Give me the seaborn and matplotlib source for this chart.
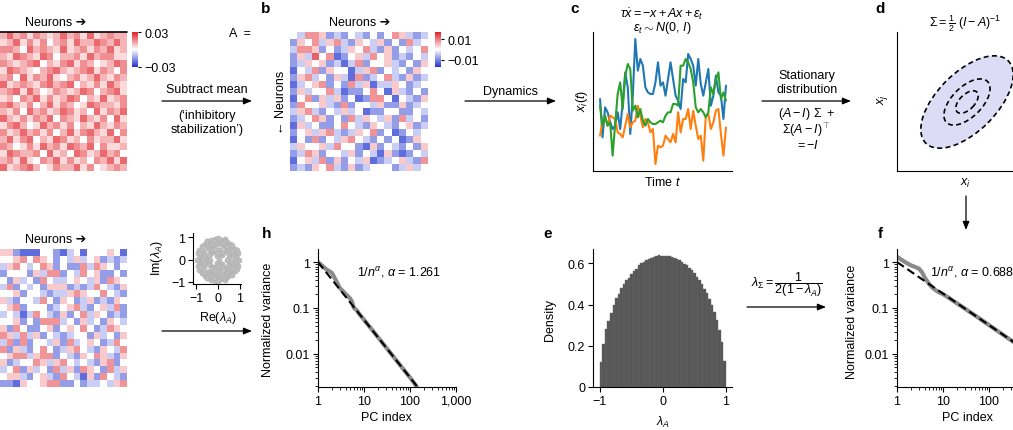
## Connectivity -> dynamics -> covariance spectrum schematic
import numpy as np
import pandas as pd
import matplotlib
matplotlib.use("Agg")
import matplotlib.pyplot as plt
import seaborn as sns
from matplotlib.colors import LinearSegmentedColormap
from matplotlib.patches import Ellipse
from matplotlib.ticker import FixedLocator, FixedFormatter, NullFormatter, LogLocator

## connectivity matrices, one digit per cell
# panel a: 0 = white .. 4 = strongest red (value = digit * 0.005)
a_rows = [
    "2423132124231412322", "1241313023142243242", "3320423214123132412",
    "2143214302231423311", "3212340213413201243", "1432102342123413203",
    "2304132410231242132", "4123213423402131421", "2341420132124302341",
    "1203241312430214123", "3421302413201432213", "2130423124312041324",
    "4213132403214213041", "1342014231302142132", "3124231302413421403",
    "2413402143120312241", "3201314231432403112", "1432230412043124230",
    "2314103241312032414", "4123420132241301232",
]
# panels b and g: 1 = blue .. 4 = white .. 7 = red (value = (digit - 4) * 0.004)
b_rows = [
    "4366523243242465323", "2546356325435242634", "3665242354632524346",
    "2537461245364523243", "2354523136244532425", "1436254413562434254",
    "2563425316234632523", "1345624263513354234", "2534463122464153242",
    "1462535241266414325", "2644532624435225234", "3563243534122442243",
    "2346524263543526342", "1534224643254324523", "2453563235462412434",
    "1426243564324241254", "3544536442152432425", "2365244352431521243",
    "1453625243512345326", "2325463252344423534",
]
g_rows = [
    "5521114421341444541", "4456465424353452323", "3564346524226365424",
    "2444253662436452242", "4253426433454352654", "3624342555232364325",
    "4452443233565446432", "5324436425423523254", "4562444234563245362",
    "3431364325246354232", "4452426663425342543", "5264224524546423654",
    "6536352432344253425", "3626244352634542364", "6253246423564325436",
    "4566356624325465325", "5234465356434325624", "3462534263526542635",
    "4553245326431526432", "2215445662242334356",
]
a_step = 0.005
bg_step = 0.004

## example traces x_i(t)
trace_blue = [2.1, 0.95, 1.85, 1.7, 1.4, 1.2, 1.3, 1.7, 1.2, 2.0, 2.9, 2.45, 1.05, 2.2, 3.9,
              2.95, 3.3, 3.1, 2.45, 2.3, 2.25, 2.25, 2.6, 3.2, 2.5, 2.6, 2.2, 2.7, 3.2, 2.7,
              2.2, 2.05, 1.8, 2.7, 2.6, 3.45, 3.3, 3.1, 2.5, 3.3, 2.55, 2.2, 2.6, 3.0, 1.9,
              2.2, 2.8, 2.3, 2.2, 1.5, 2.5]
trace_orange = [1.0, 1.45, 1.55, 1.3, 1.6, 1.55, 1.5, 1.1, 1.05, 0.95, 1.3, 1.65, 1.25, 1.4, 1.45,
                1.9, 1.6, 1.25, 1.5, 1.4, 1.1, 1.2, 0.15, 0.7, 0.65, 0.7, 1.0, 0.9, 0.8, 1.05,
                0.8, 1.7, 1.1, 1.5, 1.5, 1.8, 1.2, 1.75, 1.3, 0.9, 1.0, 0.25, 1.6, 1.65, 1.2,
                1.4, 1.75, 1.8, 1.05, 0.4, 1.25]
trace_green = [1.9, 1.3, 1.6, 1.3, 1.4, 0.4, 1.35, 2.25, 2.6, 1.8, 2.8, 3.15, 3.0, 1.75, 1.9,
               1.55, 1.8, 1.45, 1.3, 1.5, 1.4, 1.35, 1.35, 1.4, 1.45, 1.4, 1.6, 1.7, 1.7, 1.95,
               1.95, 1.9, 3.1, 3.1, 3.3, 3.2, 3.0, 2.6, 1.85, 1.7, 1.8, 1.7, 1.55, 1.7, 2.45,
               2.25, 2.7, 2.9, 2.1, 2.3, 2.05]

## eigenvalues of A: upper half plane (conjugates mirror below) + real ones
eig_re_up = [-0.92, -0.85, -0.78, -0.72, -0.66, -0.6, -0.55, -0.48, -0.42, -0.36, -0.3, -0.24,
             -0.18, -0.12, -0.06, 0.0, 0.06, 0.12, 0.18, 0.24, 0.3, 0.36, 0.42, 0.48, 0.55, 0.6,
             0.66, 0.72, 0.78, 0.85, 0.92,
             -0.8, -0.62, -0.45, -0.28, -0.1, 0.08, 0.26, 0.44, 0.62, 0.8,
             -0.5, -0.32, -0.15, 0.02, 0.2, 0.38, 0.56,
             -0.2, 0.0, 0.22, -0.88, 0.88, -0.4, 0.4, -0.65, 0.65]
eig_im_up = [0.3, 0.45, 0.15, 0.6, 0.35, 0.72, 0.12, 0.82, 0.5, 0.25, 0.9, 0.6, 0.35, 0.95, 0.15,
             0.7, 0.45, 0.88, 0.2, 0.6, 0.92, 0.38, 0.8, 0.1, 0.7, 0.3, 0.55, 0.2, 0.5, 0.25, 0.3,
             0.3, 0.55, 0.65, 0.42, 0.78, 0.28, 0.85, 0.3, 0.68, 0.1,
             0.82, 0.72, 0.5, 0.98, 0.35, 0.62, 0.48,
             0.82, 0.3, 0.75, 0.08, 0.42, 0.2, 0.6, 0.15, 0.4]
eig_re_real = [-0.97, -0.7, -0.35, 0.05, 0.4, 0.75, 0.98]

## density of eigenvalues (50 bins on [-1, 1])
density = [0.12, 0.21, 0.28, 0.32, 0.36, 0.40, 0.43, 0.45, 0.48, 0.50, 0.52, 0.53, 0.55,
           0.565, 0.575, 0.59, 0.60, 0.605, 0.615, 0.62, 0.625, 0.63, 0.635, 0.64, 0.635,
           0.637, 0.636, 0.634, 0.63, 0.626, 0.622, 0.615, 0.607, 0.598, 0.59, 0.578, 0.566,
           0.552, 0.536, 0.52, 0.50, 0.478, 0.455, 0.428, 0.40, 0.365, 0.325, 0.278, 0.218, 0.125]

## PC spectra (h: sign-mixed A, f: positive A) and power-law fits
h_pc = [1, 1.5, 2, 2.3, 3, 4, 5, 5.5, 6, 7, 8, 10, 20, 50, 100, 140]
h_var = [1.0, 0.7, 0.58, 0.45, 0.27, 0.2, 0.16, 0.135, 0.1, 0.088, 0.072, 0.055, 0.023,
         0.0072, 0.003, 0.0019]
h_fit_pc, h_fit_var = [1, 150], [1.0, 0.0018]
f_pc = [1, 1.5, 2, 2.5, 3, 3.5, 4, 5, 6, 8, 10, 20, 50, 100, 200, 400, 1000]
f_var = [1.3, 1.0, 0.85, 0.78, 0.72, 0.6, 0.46, 0.33, 0.27, 0.22, 0.2, 0.126, 0.068, 0.042,
         0.026, 0.016, 0.0086]
f_fit_pc, f_fit_var = [1, 1000], [1.0, 0.0086]

## covariance contours (panel d)
ell_widths = [2.33, 1.16, 0.56]
ell_heights = [1.18, 0.6, 0.3]
ell_angle = 45

sns.set_theme(style="ticks", rc={"axes.edgecolor": "black", "xtick.color": "black",
                                 "ytick.color": "black", "text.color": "black",
                                 "axes.linewidth": 0.8})
plt.rcParams["font.family"] = ["Liberation Sans", "DejaVu Sans"]
plt.rcParams["font.size"] = 9
plt.rcParams["mathtext.fontset"] = "custom"
plt.rcParams["mathtext.rm"] = "Liberation Sans"
plt.rcParams["mathtext.it"] = "Liberation Sans:italic"
plt.rcParams["mathtext.bf"] = "Liberation Sans:bold"

W, H = 1013, 431
fig = plt.figure(figsize=(W / 100, H / 100), dpi=100)
cmap = LinearSegmentedColormap.from_list("rwb", ["#2233d0", "#ffffff", "#e02128"])


def px_axes(l, t, r, b):
    return fig.add_axes([l / W, 1 - b / H, (r - l) / W, (b - t) / H])


def to_frame(rows, zero, step):
    return pd.DataFrame([[(int(c) - zero) * step for c in r] for r in rows])


def style_ticks(ax):
    sns.despine(ax=ax)
    ax.tick_params(which="major", length=3.5, width=0.8, pad=2, labelsize=9)
    ax.tick_params(which="minor", length=2, width=0.6)


def log_axes(ax, xlabels):
    ax.set(xscale="log", yscale="log", xlim=(1, 1000), ylim=(10 ** -2.73, 10 ** 0.286))
    ax.xaxis.set_major_locator(FixedLocator([1, 10, 100, 1000]))
    ax.xaxis.set_major_formatter(FixedFormatter(xlabels))
    ax.yaxis.set_major_locator(FixedLocator([0.01, 0.1, 1]))
    ax.yaxis.set_major_formatter(FixedFormatter(["0.01", "0.1", "1"]))
    for axis in (ax.xaxis, ax.yaxis):
        axis.set_minor_locator(LogLocator(base=10, subs=range(2, 10)))
        axis.set_minor_formatter(NullFormatter())
    ax.set_xlabel("")
    ax.set_ylabel("")
    style_ticks(ax)


## a: raw positive connectivity
axa = px_axes(0, 33, 127, 172)
cax_a = px_axes(132, 33, 138, 68)
sns.heatmap(to_frame(a_rows, 0, a_step), ax=axa, cmap=cmap, vmin=-0.03, vmax=0.03,
            cbar_ax=cax_a, xticklabels=False, yticklabels=False)
axa.axhline(0, color="black", lw=1.2, clip_on=False)
cax_a.set_yticks([-0.03, 0.03])
cax_a.set_yticklabels(["\u22120.03", "0.03"])
cax_a.tick_params(length=2.5, width=0.8, pad=2, labelsize=9)

## b: mean-subtracted connectivity
axb = px_axes(290, 33, 428, 172)
cax_b = px_axes(435, 33, 441, 68)
sns.heatmap(to_frame(b_rows, 4, bg_step), ax=axb, cmap=cmap, vmin=-0.0167, vmax=0.0167,
            cbar_ax=cax_b, xticklabels=False, yticklabels=False)
cax_b.set_yticks([-0.01, 0.01])
cax_b.set_yticklabels(["\u22120.01", "0.01"])
cax_b.tick_params(length=2.5, width=0.8, pad=2, labelsize=9)

## g: random sign-mixed connectivity
axg = px_axes(0, 250, 127, 388)
sns.heatmap(to_frame(g_rows, 4, bg_step), ax=axg, cmap=cmap, vmin=-0.0167, vmax=0.0167,
            cbar=False, xticklabels=False, yticklabels=False)

## c: traces
axc = px_axes(593, 33, 732, 172)
n_t = len(trace_blue)
c_df = pd.DataFrame({"t": list(range(n_t)) * 3,
                     "x": trace_blue + trace_orange + trace_green,
                     "trace": ["blue"] * n_t + ["orange"] * n_t + ["green"] * n_t})
sns.lineplot(data=c_df, x="t", y="x", hue="trace", errorbar=None, lw=1.5, legend=False, ax=axc,
             palette={"blue": "#1f77b4", "orange": "#ff7f0e", "green": "#2ca02c"})
axc.set(xlim=(-2.8, 52.4), ylim=(-0.06, 4.11), xticks=[], yticks=[], xlabel="", ylabel="")
sns.despine(ax=axc)

## d: stationary covariance contours
axd = px_axes(897, 33, 1013, 172)
axd.set(xlim=(-1.4, 0.92), ylim=(-1.38, 1.4), xticks=[], yticks=[])
sns.despine(ax=axd)
axd.add_patch(Ellipse((0, 0), ell_widths[0], ell_heights[0], angle=ell_angle,
                      facecolor="#dcdcf6", edgecolor="none"))
for w, h in zip(ell_widths, ell_heights):
    axd.add_patch(Ellipse((0, 0), w, h, angle=ell_angle, facecolor="none",
                          edgecolor="black", lw=1.2, linestyle=(0, (3, 2))))

## inset: eigenvalue cloud
axi = px_axes(193, 234, 241, 285)
eig_re = eig_re_up + eig_re_up + eig_re_real
eig_im = eig_im_up + [-v for v in eig_im_up] + [0.0] * len(eig_re_real)
sns.scatterplot(x=eig_re, y=eig_im, ax=axi, s=14, color="#bdbdbd", edgecolor="#a9a9a9",
                linewidth=0.3)
axi.set(xlim=(-1.14, 1.05), ylim=(-1.1, 1.2), xticks=[-1, 0, 1], yticks=[-1, 0, 1])
style_ticks(axi)

## e: eigenvalue density
axe = px_axes(593, 250, 732, 388)
edges = np.linspace(-1, 1, len(density) + 1)
dens_df = pd.DataFrame({"lam": (edges[:-1] + edges[1:]) / 2, "dens": density})
sns.histplot(data=dens_df, x="lam", weights="dens", binwidth=2 / len(density), binrange=(-1, 1),
             ax=axe, color="#555555", alpha=1, edgecolor="#6a6a6a", linewidth=0.3)
axe.set(xlim=(-1.11, 1.095), ylim=(0, 0.67), xticks=[-1, 0, 1], yticks=[0, 0.2, 0.4, 0.6],
        xlabel="", ylabel="")
axe.set_yticklabels(["0", "0.2", "0.4", "0.6"])
style_ticks(axe)

## h and f: PC spectra
axh = px_axes(318, 250, 456, 388)
axh.set(xscale="log", yscale="log")
sns.lineplot(x=h_pc, y=h_var, ax=axh, color="#8a8a8a", lw=3)
sns.lineplot(x=h_fit_pc, y=h_fit_var, ax=axh, color="black", lw=1.5)
axh.get_lines()[-1].set_dashes([4, 2])
log_axes(axh, ["1", "10", "100", "1,000"])

# f runs past the right edge of the figure, as in the original crop
axf = px_axes(897, 250, 1035, 388)
axf.set(xscale="log", yscale="log")
sns.lineplot(x=f_pc, y=f_var, ax=axf, color="#8a8a8a", lw=3)
sns.lineplot(x=f_fit_pc, y=f_fit_var, ax=axf, color="black", lw=1.5)
axf.get_lines()[-1].set_dashes([4, 2])
log_axes(axf, ["1", "10", "100", ""])

## overlay for text and arrows in pixel coordinates
ov = fig.add_axes([0, 0, 1, 1])
ov.set_xlim(0, W)
ov.set_ylim(H, 0)
ov.axis("off")


def txt(x, y, s, size=9, **kw):
    kw.setdefault("ha", "center")
    ov.text(x, y, s, va="center", fontsize=size, **kw)


def arrow(x1, y1, x2, y2):
    ov.annotate("", xy=(x2, y2), xytext=(x1, y1),
                arrowprops=dict(arrowstyle="-|>,head_length=0.55,head_width=0.22",
                                color="black", lw=0.9, shrinkA=0, shrinkB=0))


for lab, x, y in [("b", 266, 9), ("c", 575, 9), ("d", 880, 9),
                  ("h", 267, 234), ("e", 548, 234), ("f", 880, 234)]:
    txt(x, y, lab, size=11, fontweight="bold")

txt(56, 23, "Neurons \u2794")
txt(56, 240, "Neurons \u2794")
txt(360, 23, "Neurons \u2794")
txt(281, 102, "\u2190 Neurons", rotation=90)
txt(240, 34, "A  =")

arrow(162, 102, 252, 102)
txt(207, 90, "Subtract mean")
txt(207, 116, "(\u2018inhibitory")
txt(207, 130, "stabilization\u2019)")

arrow(465, 102, 556, 102)
txt(510, 92, "Dynamics")

txt(662, 14, r"$\tau\dot{x} = -x + Ax + \varepsilon_t$")
txt(662, 28, r"$\varepsilon_t \sim N(0,\, I)$")
txt(582, 101, r"$x_i(t)$", rotation=90)
txt(663, 183, r"Time $t$")

arrow(762, 102, 851, 102)
txt(807, 76, "Stationary")
txt(807, 90, "distribution")
txt(807, 114, r"$(A - I)\ \Sigma\ +$")
txt(807, 130, r"$\Sigma(A - I)^{\top}$")
txt(807, 146, r"$= -I$")

txt(965, 24, r"$\Sigma = \frac{1}{2}\ (I - A)^{-1}$")
txt(882, 100, r"$x_j$", rotation=90)
txt(965, 183, r"$x_i$")
arrow(966, 197, 966, 231)

txt(157, 258, r"Im($\lambda_A$)", rotation=90)
txt(218, 318, r"Re($\lambda_A$)")
arrow(162, 332, 252, 332)

txt(268, 320, "Normalized variance", rotation=90)
txt(386, 418, "PC index")
txt(357, 272, r"$1/n^{\alpha}$, $\alpha$ = 1.261", ha="left")

txt(550, 320, "Density", rotation=90)
txt(663, 422, r"$\lambda_A$")
txt(787, 285, r"$\lambda_{\Sigma} = \dfrac{1}{2(1 - \lambda_A)}$")
arrow(747, 308, 826, 308)

txt(852, 322, "Normalized variance", rotation=90)
txt(967, 418, "PC index")
txt(930, 272, r"$1/n^{\alpha}$, $\alpha$ = 0.688", ha="left")

fig.savefig("out.png", dpi=100)
